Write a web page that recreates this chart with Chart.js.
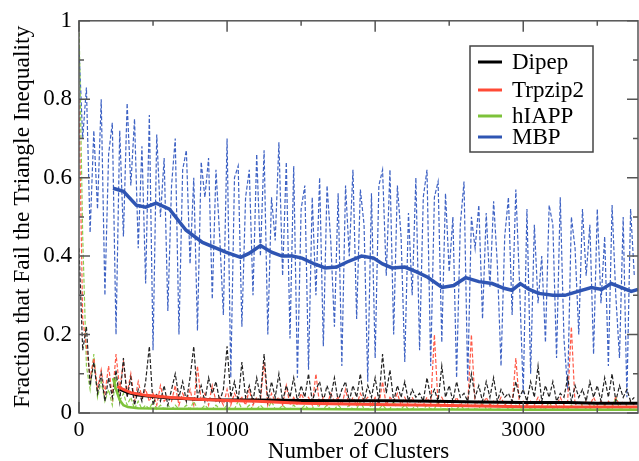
<!DOCTYPE html>
<html lang="en">
<head>
    <script src="https://cdn.jsdelivr.net/npm/chart.js"></script>
    <meta charset="UTF-8">
    <title>Triangle Inequality</title>
    <style>
        body {
            margin: 0;
            padding: 0;
            background-color: #fff;
        }
    </style>
</head>
<body>
    <canvas id="chart" width="639" height="461"></canvas>

    <script>
        // sampling grid of the raw (dashed) curves
        const step = 25;

        // raw fractions, one value every 25 clusters
        const mbpRaw = [0.93, 0.70, 0.83, 0.46, 0.72, 0.52, 0.80, 0.30, 0.66, 0.74, 0.20, 0.72, 0.45, 0.79, 0.58, 0.75,
            0.42, 0.68, 0.33, 0.76, 0.16, 0.71, 0.50, 0.65, 0.26, 0.58, 0.70, 0.20, 0.62, 0.67, 0.38, 0.60,
            0.21, 0.64, 0.55, 0.65, 0.29, 0.62, 0.45, 0.25, 0.70, 0.09, 0.60, 0.63, 0.22, 0.55, 0.62, 0.30,
            0.66, 0.40, 0.67, 0.20, 0.55, 0.44, 0.69, 0.35, 0.64, 0.19, 0.63, 0.09, 0.52, 0.58, 0.11, 0.55,
            0.30, 0.60, 0.17, 0.58, 0.44, 0.22, 0.56, 0.12, 0.58, 0.40, 0.62, 0.24, 0.57, 0.48, 0.08, 0.56,
            0.14, 0.58, 0.62, 0.35, 0.62, 0.20, 0.58, 0.45, 0.13, 0.51, 0.30, 0.60, 0.16, 0.55, 0.62, 0.12,
            0.55, 0.59, 0.18, 0.56, 0.36, 0.50, 0.09, 0.48, 0.59, 0.08, 0.50, 0.42, 0.53, 0.24, 0.51, 0.32,
            0.54, 0.38, 0.12, 0.45, 0.55, 0.25, 0.57, 0.33, 0.05, 0.52, 0.10, 0.48, 0.28, 0.40, 0.18, 0.53,
            0.48, 0.14, 0.55, 0.19, 0.06, 0.50, 0.42, 0.20, 0.52, 0.35, 0.48, 0.15, 0.52, 0.28, 0.45, 0.12,
            0.53, 0.30, 0.14, 0.50, 0.04, 0.52, 0.35];

        const dipepRaw = [0.42, 0.16, 0.22, 0.07, 0.13, 0.05, 0.10, 0.03, 0.09, 0.04, 0.11, 0.03, 0.14,
            0.04, 0.09, 0.02, 0.06, 0.03, 0.08, 0.17, 0.02, 0.05, 0.03, 0.07, 0.02,
            0.06, 0.10, 0.04, 0.08, 0.03, 0.09, 0.17, 0.04, 0.07, 0.03, 0.09, 0.05, 0.08, 0.03, 0.06, 0.17,
            0.04, 0.08, 0.03, 0.13, 0.04, 0.07, 0.03, 0.09, 0.04, 0.15, 0.03, 0.08, 0.04, 0.10, 0.03, 0.07,
            0.04, 0.09, 0.03, 0.07, 0.04, 0.10, 0.03, 0.06, 0.08, 0.03, 0.07, 0.04, 0.09, 0.03, 0.06, 0.08,
            0.03, 0.07, 0.04, 0.10, 0.03, 0.07, 0.04, 0.09, 0.03, 0.15, 0.05, 0.11, 0.03, 0.07, 0.04, 0.08,
            0.03, 0.06, 0.04, 0.05, 0.03, 0.09, 0.04, 0.06, 0.03, 0.12, 0.04, 0.07, 0.03, 0.08, 0.04, 0.05,
            0.03, 0.10, 0.04, 0.07, 0.03, 0.08, 0.04, 0.09, 0.03, 0.06, 0.04, 0.05, 0.03, 0.08, 0.04, 0.06,
            0.03, 0.08, 0.04, 0.12, 0.03, 0.07, 0.04, 0.08, 0.03, 0.05, 0.04, 0.09, 0.03, 0.07, 0.04, 0.06,
            0.03, 0.08, 0.04, 0.07, 0.03, 0.09, 0.04, 0.10, 0.03, 0.07, 0.04, 0.06, 0.03, 0.04];

        const trpzipRaw = [0.80, 0.24, 0.17, 0.09, 0.14, 0.06, 0.11, 0.05, 0.12, 0.04, 0.15, 0.06, 0.13,
            0.05, 0.10, 0.03, 0.08, 0.04, 0.06, 0.03, 0.05, 0.02, 0.07, 0.03, 0.04,
            0.03, 0.07, 0.02, 0.05, 0.03, 0.06, 0.02, 0.12, 0.03, 0.05, 0.02, 0.07, 0.03, 0.04, 0.02, 0.06,
            0.02, 0.05, 0.03, 0.04, 0.02, 0.06, 0.02, 0.04, 0.03, 0.13, 0.02, 0.05, 0.03, 0.04, 0.02, 0.07,
            0.02, 0.04, 0.02, 0.05, 0.03, 0.04, 0.02, 0.10, 0.02, 0.04, 0.02, 0.05, 0.03, 0.04, 0.02, 0.06,
            0.02, 0.04, 0.02, 0.05, 0.03, 0.04, 0.02, 0.04, 0.02, 0.08, 0.02, 0.04, 0.03, 0.05, 0.02, 0.04,
            0.02, 0.04, 0.02, 0.03, 0.02, 0.04, 0.02, 0.20, 0.02, 0.04, 0.02, 0.03, 0.02, 0.04, 0.02, 0.03,
            0.02, 0.20, 0.02, 0.03, 0.02, 0.04, 0.02, 0.03, 0.02, 0.04, 0.02, 0.03, 0.02, 0.14, 0.02, 0.03,
            0.02, 0.03, 0.02, 0.04, 0.02, 0.03, 0.02, 0.03, 0.02, 0.04, 0.02, 0.03, 0.22, 0.02, 0.03, 0.02,
            0.03, 0.02, 0.04, 0.02, 0.03, 0.02, 0.03, 0.02, 0.04, 0.02, 0.03, 0.02, 0.03, 0.02];

        const hiappRaw = [1.00, 0.45, 0.12, 0.06, 0.15, 0.04, 0.08, 0.03, 0.06, 0.02, 0.09, 0.03, 0.05,
            0.02, 0.04, 0.01, 0.03, 0.01, 0.02, 0.01, 0.03, 0.01, 0.02, 0.01, 0.02,
            0.01, 0.02, 0.01, 0.01, 0.02, 0.01, 0.03, 0.01, 0.01, 0.02, 0.01, 0.01, 0.02, 0.01, 0.01, 0.02,
            0.01, 0.01, 0.03, 0.01, 0.01, 0.02, 0.01, 0.01, 0.02, 0.01, 0.01, 0.03, 0.01, 0.01, 0.02, 0.01,
            0.01, 0.02, 0.01, 0.01, 0.02, 0.01, 0.01, 0.03, 0.01, 0.01, 0.02, 0.01, 0.01, 0.02, 0.01, 0.01,
            0.02, 0.01, 0.01, 0.03, 0.01, 0.01, 0.02, 0.01, 0.01, 0.02, 0.01, 0.01, 0.03, 0.01, 0.01, 0.02,
            0.01, 0.01, 0.02, 0.01, 0.01, 0.02, 0.01, 0.01, 0.03, 0.01, 0.01, 0.02, 0.01, 0.01, 0.02, 0.01,
            0.01, 0.02, 0.01, 0.01, 0.03, 0.01, 0.01, 0.02, 0.01, 0.01, 0.02, 0.01, 0.01, 0.02, 0.01, 0.01,
            0.02, 0.01, 0.01, 0.02, 0.01, 0.01, 0.03, 0.01, 0.01, 0.02, 0.01, 0.01, 0.02, 0.01, 0.01, 0.02,
            0.01, 0.01, 0.02, 0.01, 0.01, 0.02, 0.01, 0.01, 0.04, 0.01, 0.01, 0.02, 0.01, 0.01];

        // running averages (solid curves)
        const mbpAvgX = [230, 300, 387, 450, 521, 611, 723, 834, 991, 1092, 1148, 1226, 1300, 1371, 1440, 1506,
            1590, 1662, 1740, 1810, 1908, 1990, 2050, 2115, 2200, 2280, 2355, 2452, 2530, 2611, 2700, 2790,
            2870, 2924, 2980, 3040, 3104, 3200, 3282, 3370, 3460, 3530, 3594, 3660, 3729, 3775];
        const mbpAvgY = [0.573, 0.565, 0.53, 0.525, 0.535, 0.52, 0.466, 0.435, 0.41, 0.397, 0.407, 0.427, 0.41, 0.40, 0.40, 0.395,
            0.38, 0.37, 0.372, 0.385, 0.40, 0.395, 0.38, 0.37, 0.372, 0.36, 0.346, 0.32, 0.325, 0.345, 0.335, 0.33,
            0.318, 0.313, 0.33, 0.315, 0.305, 0.30, 0.30, 0.31, 0.32, 0.315, 0.33, 0.32, 0.31, 0.315];

        const dipepAvgX = [275, 330, 400, 500, 611, 700, 800, 968, 1200, 1500, 1800, 2100, 2400, 2700, 3000, 3300, 3500, 3775];
        const dipepAvgY = [0.06, 0.052, 0.046, 0.042, 0.038, 0.037, 0.035, 0.033, 0.033, 0.032, 0.031, 0.031, 0.03, 0.028, 0.027, 0.027, 0.025, 0.025];

        const trpzipAvgX = [260, 300, 350, 450, 600, 800, 1000, 1200, 1500, 1800, 2100, 2400, 2700, 3000, 3300, 3600, 3775];
        const trpzipAvgY = [0.068, 0.06, 0.052, 0.045, 0.04, 0.035, 0.032, 0.03, 0.025, 0.023, 0.021, 0.02, 0.018, 0.016, 0.015, 0.015, 0.015];

        const hiappAvgX = [230, 250, 275, 300, 330, 400, 600, 1000, 1500, 2000, 2500, 3000, 3500, 3775];
        const hiappAvgY = [0.089, 0.06, 0.033, 0.02, 0.015, 0.012, 0.011, 0.01, 0.01, 0.009, 0.009, 0.008, 0.008, 0.008];

        const names = ['Dipep', 'Trpzip2', 'hIAPP', 'MBP'];
        const solidColors = ['#000000', '#ff4a36', '#7dc23a', '#2f55b3'];
        const dashColors = ['#222222', '#ff5a48', '#8ccd4e', '#3f63c4'];

        const yTicks = [0, 0.2, 0.4, 0.6, 0.8, 1];
        const xTicks = [0, 1000, 2000, 3000];

        function rawPoints(values) {
            return values.map((v, i) => ({ x: i * step, y: v }));
        }
        function avgPoints(xs, ys) {
            return xs.map((x, i) => ({ x: x, y: ys[i] }));
        }

        const rawSets = [dipepRaw, trpzipRaw, hiappRaw, mbpRaw];
        const avgSets = [[dipepAvgX, dipepAvgY], [trpzipAvgX, trpzipAvgY], [hiappAvgX, hiappAvgY], [mbpAvgX, mbpAvgY]];
        const avgWidths = [3, 3, 2.5, 3.5];

        const datasets = [];
        // raw curves, drawn underneath (MBP lowest)
        rawSets.forEach((vals, k) => {
            datasets.push({
                label: names[k] + ' raw',
                data: rawPoints(vals),
                borderColor: dashColors[k],
                borderWidth: 1.2,
                borderDash: [4, 2],
                pointRadius: 0,
                order: k === 3 ? 20 : 10 + k
            });
        });
        // running averages on top
        avgSets.forEach((pair, k) => {
            datasets.push({
                label: names[k],
                data: avgPoints(pair[0], pair[1]),
                borderColor: solidColors[k],
                borderWidth: avgWidths[k],
                pointRadius: 0,
                order: 4 - k
            });
        });

        // frame with inward ticks on all four sides, plus the boxed legend
        const framePlugin = {
            id: 'frame',
            afterDraw(chart) {
                const ctx = chart.ctx;
                const a = chart.chartArea;
                const xs = chart.scales.x;
                const ys = chart.scales.y;
                ctx.save();
                ctx.strokeStyle = '#555';
                ctx.lineWidth = 1.5;
                ctx.strokeRect(a.left, a.top, a.right - a.left, a.bottom - a.top);
                ctx.beginPath();
                for (let v = 0; v <= 3500; v += 500) {
                    const px = xs.getPixelForValue(v);
                    const len = v % 1000 === 0 ? 11 : 5;
                    ctx.moveTo(px, a.bottom); ctx.lineTo(px, a.bottom - len);
                    ctx.moveTo(px, a.top); ctx.lineTo(px, a.top + len);
                }
                for (let j = 0; j <= 10; j++) {
                    const py = ys.getPixelForValue(j / 10);
                    const len = j % 2 === 0 ? 11 : 5;
                    ctx.moveTo(a.left, py); ctx.lineTo(a.left + len, py);
                    ctx.moveTo(a.right, py); ctx.lineTo(a.right - len, py);
                }
                ctx.stroke();

                // legend
                ctx.fillStyle = '#fff';
                ctx.fillRect(470, 46, 123, 106);
                ctx.strokeStyle = '#444';
                ctx.lineWidth = 1.5;
                ctx.strokeRect(470, 46, 123, 106);
                const rows = [62, 90, 116, 137];
                ctx.font = '23px "Liberation Serif", serif';
                ctx.textBaseline = 'middle';
                names.forEach((n, k) => {
                    ctx.strokeStyle = solidColors[k];
                    ctx.lineWidth = 3;
                    ctx.beginPath();
                    ctx.moveTo(478, rows[k]);
                    ctx.lineTo(502, rows[k]);
                    ctx.stroke();
                    ctx.fillStyle = '#000';
                    ctx.fillText(n, 512, rows[k] + 1);
                });
                ctx.restore();
            }
        };

        const serif = '"Liberation Serif", "Times New Roman", serif';

        new Chart(document.getElementById('chart'), {
            type: 'line',
            data: { datasets: datasets },
            options: {
                responsive: false,
                animation: false,
                layout: { padding: { top: 18, right: 1, left: 0, bottom: 0 } },
                plugins: {
                    legend: { display: false },
                    tooltip: { enabled: false }
                },
                scales: {
                    x: {
                        type: 'linear',
                        min: 0,
                        max: 3775,
                        afterFit(scale) { scale.height = 48; },
                        afterBuildTicks(scale) { scale.ticks = xTicks.map(v => ({ value: v })); },
                        grid: { display: false, drawTicks: false },
                        border: { display: false },
                        ticks: {
                            color: '#000',
                            padding: 4,
                            maxRotation: 0,
                            font: { family: serif, size: 22 },
                            callback: v => String(v)
                        },
                        title: {
                            display: true,
                            text: 'Number of Clusters',
                            color: '#000',
                            padding: 0,
                            font: { family: serif, size: 23, lineHeight: 0.8 }
                        }
                    },
                    y: {
                        min: 0,
                        max: 1,
                        afterFit(scale) { scale.width = 79; },
                        afterBuildTicks(scale) { scale.ticks = yTicks.map(v => ({ value: v })); },
                        grid: { display: false, drawTicks: false },
                        border: { display: false },
                        ticks: {
                            color: '#000',
                            padding: 7,
                            font: { family: serif, size: 23 },
                            callback: v => String(v)
                        },
                        title: {
                            display: true,
                            text: 'Fraction that Fail the Triangle Inequality',
                            color: '#000',
                            padding: { top: 9, bottom: 0 },
                            font: { family: serif, size: 23.5, lineHeight: 1.2 }
                        }
                    }
                }
            },
            plugins: [framePlugin]
        });
    </script>
</body>
</html>
